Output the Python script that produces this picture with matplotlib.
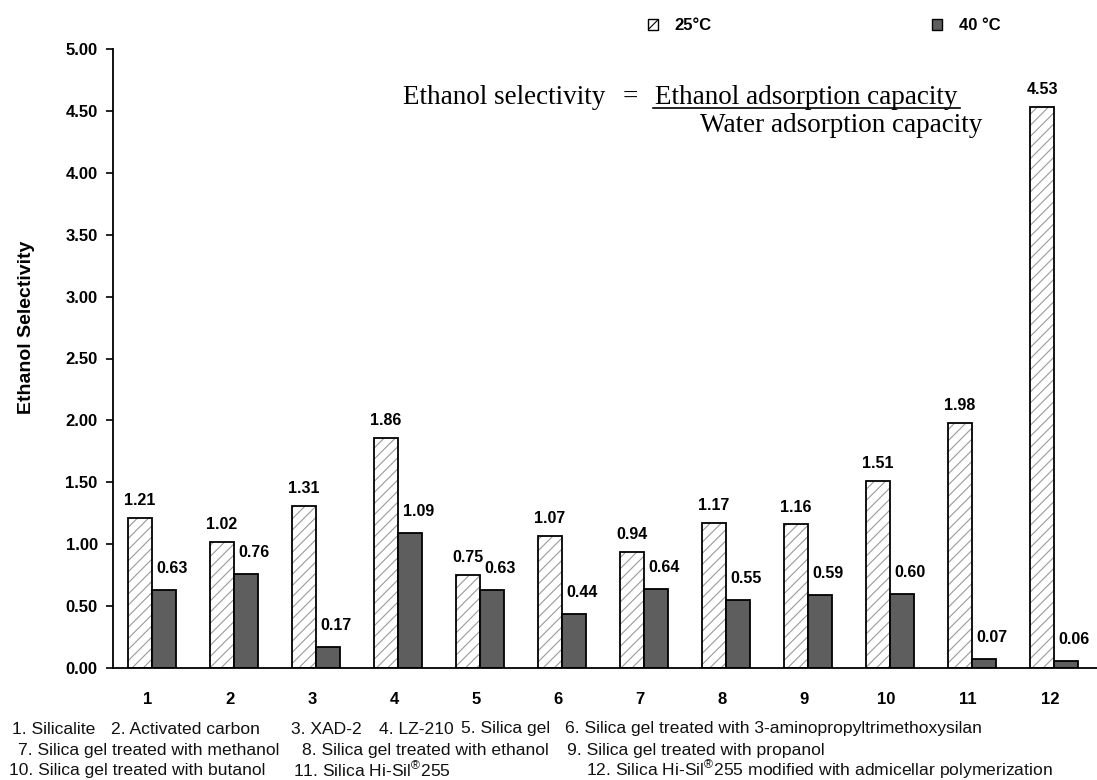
import numpy as np
import matplotlib
matplotlib.use("Agg")
from matplotlib import pyplot as plt
from matplotlib.patches import Patch

plt.rcParams['font.family'] = ['Liberation Sans', 'DejaVu Sans']
plt.rcParams['hatch.linewidth'] = 0.8
plt.rcParams['mathtext.fontset'] = 'custom'
plt.rcParams['mathtext.rm'] = 'Liberation Sans'

# data
categories = ['1', '2', '3', '4', '5', '6', '7', '8', '9', '10', '11', '12']
sel_25 = [1.21, 1.02, 1.31, 1.86, 0.75, 1.07, 0.94, 1.17, 1.16, 1.51, 1.98, 4.53]
sel_40 = [0.63, 0.76, 0.17, 1.09, 0.63, 0.44, 0.64, 0.55, 0.59, 0.60, 0.07, 0.06]
yticks = [0.0, 0.5, 1.0, 1.5, 2.0, 2.5, 3.0, 3.5, 4.0, 4.5, 5.0]

hisil = r'Hi-Sil$^{\circledR}$255'
key_rows = [
    [(12, '1. Silicalite'), (111, '2. Activated carbon'), (291, '3. XAD-2'),
     (379, '4. LZ-210'), (461, '5. Silica gel'),
     (565, '6. Silica gel treated with 3-aminopropyltrimethoxysilan')],
    [(18, '7. Silica gel treated with methanol'), (302, '8. Silica gel treated with ethanol'),
     (567, '9. Silica gel treated with propanol')],
    [(9, '10. Silica gel treated with butanol'), (293, '11. Silica ' + hisil),
     (586, '12. Silica ' + hisil + ' modified with admicellar polymerization')],
]

W, H = 1097, 780
fig = plt.figure(figsize=(W / 100, H / 100), dpi=100, facecolor='white')
ax = fig.add_axes([113 / W, (H - 668) / H, 1 - 113 / W, (668 - 49) / H])

x = np.arange(len(categories))
bw = 0.29
hatch_c = '#9a9a9a'
dark_c = '#5e5e5e'

# 25 °C: hatch layer then black outline
ax.bar(x - bw / 2, sel_25, bw, color='white', edgecolor=hatch_c, hatch='///', linewidth=0)
ax.bar(x - bw / 2, sel_25, bw, fill=False, edgecolor='black', linewidth=1.3)
# 40 °C
ax.bar(x + bw / 2, sel_40, bw, color=dark_c, edgecolor='black', linewidth=1.3)

for xi, v in zip(x, sel_25):
    ax.annotate(f'{v:.2f}', (xi - bw / 2, v), xytext=(0, 7), textcoords='offset points',
                ha='center', va='bottom', fontsize=11.5, fontweight='bold')
for xi, v in zip(x, sel_40):
    ax.annotate(f'{v:.2f}', (xi + bw / 2, v), xytext=(6, 10), textcoords='offset points',
                ha='center', va='bottom', fontsize=11.5, fontweight='bold')

ax.set_xlim((113 - 152) / 82, (W - 152) / 82)
ax.set_ylim(0, 5)
ax.set_yticks(yticks)
ax.set_yticklabels([f'{t:.2f}' for t in yticks], fontsize=12, fontweight='bold')
ax.set_xticks(x - 0.05)
ax.set_xticklabels(categories, fontsize=12, fontweight='bold')
ax.tick_params(axis='x', length=0, pad=17)
ax.tick_params(axis='y', length=5, width=1.2, direction='out', pad=6)
for s in ['top', 'right']:
    ax.spines[s].set_visible(False)
for s in ['left', 'bottom']:
    ax.spines[s].set_linewidth(1.3)

fig.text(27 / W, 1 - 327 / H, 'Ethanol Selectivity', rotation=90, ha='center', va='center',
         fontsize=14, fontweight='bold')

# formula
serif = ['Liberation Serif', 'DejaVu Serif']
fs_f = 19.5
fig.text(403 / W, 1 - 104 / H, 'Ethanol selectivity', family=serif, fontsize=fs_f,
         ha='left', va='baseline')
fig.text(630 / W, 1 - 104 / H, '=', family=serif, fontsize=fs_f, ha='center', va='baseline')
fig.text(655 / W, 1 - 104 / H, 'Ethanol adsorption capacity', family=serif, fontsize=fs_f,
         ha='left', va='baseline')
fig.add_artist(plt.Line2D([653 / W, 960 / W], [1 - 108 / H, 1 - 108 / H], color='black', lw=1.2))
fig.text(700 / W, 1 - 132 / H, 'Water adsorption capacity', family=serif, fontsize=fs_f,
         ha='left', va='baseline')

# legend: two separate entries far apart
leg_kw = dict(loc='center left', frameon=False, handlelength=0.6, handleheight=0.6,
              handletextpad=1.0, borderpad=0, borderaxespad=0,
              prop={'weight': 'bold', 'size': 12})
fig.legend(handles=[Patch(facecolor='white', edgecolor='black', hatch='///', label='25°C')],
           bbox_to_anchor=(648 / W, 1 - 26 / H), **leg_kw)
fig.legend(handles=[Patch(facecolor=dark_c, edgecolor='black', label='40 °C')],
           bbox_to_anchor=(932 / W, 1 - 26 / H), **leg_kw)

# bottom key
for row, ypix in zip(key_rows, [729, 750, 770]):
    for xpix, txt in row:
        fig.text(xpix / W, 1 - ypix / H, txt, fontsize=12.6, ha='left', va='center',
                 color='#111111')

fig.savefig('out.png', dpi=100, facecolor='white')
